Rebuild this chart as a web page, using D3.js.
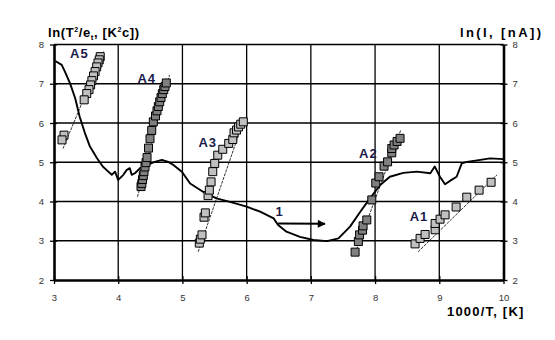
<!DOCTYPE html>
<html>
<head>
<meta charset="utf-8">
<script src="https://cdn.jsdelivr.net/npm/d3@7"></script>
<style>
  body { margin: 0; background: #fff; }
  text { font-family: "Liberation Sans", Arial, sans-serif; }
</style>
</head>
<body>
<svg width="555" height="340"></svg>
<script>
// curve 1 : ln(I) vs 1000/T
var curve1 = [
  [3.02,7.58],[3.12,7.48],[3.17,7.31],[3.25,7.01],[3.33,6.63],[3.40,6.16],[3.48,5.75],
  [3.56,5.40],[3.67,5.10],[3.76,4.89],[3.82,4.80],[3.90,4.68],[3.95,4.76],[4.00,4.55],
  [4.08,4.68],[4.13,4.80],[4.18,4.85],[4.21,4.68],[4.26,4.72],[4.34,4.85],[4.44,4.93],
  [4.57,5.01],[4.68,5.06],[4.78,5.01],[4.86,4.93],[4.99,4.76],[5.12,4.46],[5.32,4.25],
  [5.53,4.08],[5.74,3.99],[6.00,3.87],[6.21,3.74],[6.42,3.57],[6.49,3.40],[6.62,3.23],
  [6.83,3.10],[7.04,3.02],[7.25,2.99],[7.43,3.06],[7.61,3.36],[7.77,3.74],[7.92,4.08],
  [8.08,4.42],[8.23,4.63],[8.44,4.73],[8.65,4.76],[8.86,4.72],[8.93,4.89],[9.01,4.63],
  [9.09,4.44],[9.19,4.55],[9.27,4.63],[9.35,4.97],[9.43,5.01],[9.64,5.06],[9.79,5.10],
  [10.0,5.08]
];

// A-series points : ln(T^2/e_t)
var a5 = [[3.125,5.57],[3.156,5.69],[3.47,6.59],[3.51,6.75],[3.545,6.85],[3.57,6.97],
  [3.59,7.08],[3.615,7.20],[3.64,7.31],[3.665,7.43],[3.685,7.53],[3.705,7.61],[3.72,7.69]];
var a4 = [[4.749,7.02],[4.729,6.93],[4.709,6.85],[4.687,6.75],[4.667,6.65],[4.646,6.54],
  [4.625,6.42],[4.604,6.31],[4.581,6.18],[4.547,6.03],[4.522,5.81],[4.495,5.60],[4.472,5.36],
  [4.449,5.12],[4.433,4.99],[4.417,4.88],[4.402,4.76],[4.391,4.66],[4.379,4.56],[4.368,4.46],
  [4.355,4.38]];
var a3 = [[5.948,6.03],[5.908,5.97],[5.874,5.90],[5.843,5.82],[5.804,5.75],[5.784,5.58],
  [5.721,5.48],[5.628,5.33],[5.550,5.18],[5.503,4.97],[5.472,4.76],[5.446,4.50],[5.419,4.29],
  [5.399,4.15],[5.357,3.71],[5.336,3.60],[5.305,3.15],[5.279,3.04],[5.263,2.94]];
var a2 = [[8.389,5.61],[8.343,5.53],[8.296,5.44],[8.260,5.35],[8.260,5.24],[8.195,5.01],
  [8.140,4.90],[8.062,4.63],[8.011,4.47],[7.949,4.04],[7.871,3.53],[7.813,3.38],[7.805,3.27],
  [7.759,3.15],[7.740,2.98],[7.689,2.71]];
var a1 = [[9.807,4.49],[9.620,4.29],[9.428,4.11],[9.262,3.86],[9.090,3.66],[9.012,3.55],
  [8.935,3.44],[8.935,3.28],[8.779,3.16],[8.701,3.06],[8.623,2.92]];

// fitted lines (end points)
var fit5 = [[3.14,5.35],[3.77,7.82]];
var fit4 = [[4.30,4.12],[4.80,7.22]];
var fit3 = [[5.245,2.72],[5.96,6.10]];
var fit2 = [[7.689,2.68],[8.40,5.82]];
var fit1 = [[8.67,2.72],[9.90,4.68]];

var seriesNames = ["A5","A4","A3","A2","A1"];
var seriesFill = ["#c0c0c0","#808080","#c0c0c0","#808080","#c0c0c0"];
var labelPos = [[3.25,7.65],[4.30,7.03],[5.25,5.40],[7.75,5.10],[8.54,3.50]];
var arrow1 = [[6.49,3.44],[7.22,3.43]];
var label1 = [6.45,3.62];

var xTicks = [3,4,5,6,7,8,9,10];
var yTicks = [2,3,4,5,6,7,8];

var svg = d3.select("svg");
var x = d3.scaleLinear().domain([3,10]).range([54,503.5]);
var y = d3.scaleLinear().domain([2,8]).range([280,44.5]);

// grid
svg.append("g").selectAll("line")
  .data(xTicks.slice(1,-1)).enter().append("line")
    .attr("x1", function(d){ return x(d) }).attr("x2", function(d){ return x(d) })
    .attr("y1", y(2)).attr("y2", y(8))
    .attr("stroke", "#000").attr("stroke-width", 1.3)
svg.append("g").selectAll("line")
  .data(yTicks.slice(1)).enter().append("line")
    .attr("x1", x(3)).attr("x2", x(10))
    .attr("y1", function(d){ return y(d) }).attr("y2", function(d){ return y(d) })
    .attr("stroke", "#000").attr("stroke-width", 1.3)

// axes
function styleAxis(g) {
  g.select(".domain").attr("stroke-width", 2.6)
  g.selectAll(".tick line").attr("stroke-width", 1.3)
  g.selectAll(".tick text").attr("fill", "#333").style("font-size", "9.5px")
}
var bottom = svg.append("g").attr("transform", "translate(0," + y(2) + ")")
  .call(d3.axisBottom(x).tickValues(xTicks).tickSizeInner(4).tickSizeOuter(0).tickPadding(10).tickFormat(d3.format("d")))
bottom.call(styleAxis)
bottom.selectAll(".tick line").attr("y1", -4)

var left = svg.append("g").attr("transform", "translate(" + x(3) + ",0)")
  .call(d3.axisLeft(y).tickValues(yTicks).tickSizeInner(4).tickSizeOuter(0).tickPadding(6).tickFormat(d3.format("d")))
left.call(styleAxis)
left.selectAll(".tick line").attr("x1", 3)

var right = svg.append("g").attr("transform", "translate(" + x(10) + ",0)")
  .call(d3.axisRight(y).tickValues(yTicks).tickSizeInner(4).tickSizeOuter(0).tickPadding(5).tickFormat(d3.format("d")))
right.call(styleAxis)
right.selectAll(".tick line").attr("x1", -3)

svg.selectAll(".tick text").attr("font-family", "Liberation Sans, Arial, sans-serif")

// curve 1
var line = d3.line().x(function(d){ return x(d[0]) }).y(function(d){ return y(d[1]) })
svg.append("path").datum(curve1)
  .attr("d", line).attr("fill", "none").attr("stroke", "#000")
  .attr("stroke-width", 1.9).attr("stroke-linejoin", "round")

// fits and squares
var sets = [a5, a4, a3, a2, a1];
var fits = [fit5, fit4, fit3, fit2, fit1];
var sq = d3.symbol().type(d3.symbolSquare).size(64);

sets.forEach(function(pts, i) {
  svg.append("path").datum(fits[i])
    .attr("d", line).attr("fill", "none").attr("stroke", "#000")
    .attr("stroke-width", 0.8).attr("stroke-dasharray", "3,1")
  svg.append("g").selectAll("path")
    .data(pts.slice().reverse()).enter().append("path")
      .attr("d", sq)
      .attr("transform", function(d){ return "translate(" + x(d[0]) + "," + y(d[1]) + ")" })
      .attr("fill", seriesFill[i]).attr("stroke", "#000").attr("stroke-width", 1)
  svg.append("text")
    .attr("x", x(labelPos[i][0])).attr("y", y(labelPos[i][1]))
    .attr("fill", "#1a1a4a").style("font-size", "13px").style("font-weight", "bold")
    .style("letter-spacing", "1px")
    .text(seriesNames[i])
})

// arrow for curve 1
svg.append("defs").append("marker")
  .attr("id", "arr").attr("viewBox", "0 0 10 10").attr("refX", 9).attr("refY", 5)
  .attr("markerWidth", 5).attr("markerHeight", 4).attr("orient", "auto")
  .append("path").attr("d", "M0,0L10,5L0,10z").attr("fill", "#000")
svg.append("path").datum(arrow1)
  .attr("d", line).attr("stroke", "#000").attr("stroke-width", 2)
  .attr("marker-end", "url(#arr)")
svg.append("text")
  .attr("x", x(label1[0])).attr("y", y(label1[1]))
  .attr("fill", "#1a1a4a").style("font-size", "13px").style("font-weight", "bold")
  .text("1")

// axis titles
var tl = svg.append("text").attr("x", 48).attr("y", 37)
  .style("font-size", "13px").style("font-weight", "bold").style("letter-spacing", "0.6px")
tl.append("tspan").text("ln(T")
tl.append("tspan").attr("dy", -5).style("font-size", "7px").text("2")
tl.append("tspan").attr("dy", 5).text("/e")
tl.append("tspan").attr("dy", 3).style("font-size", "8px").text("t")
tl.append("tspan").attr("dy", -3).text(", [K")
tl.append("tspan").attr("dy", -5).style("font-size", "7px").text("2")
tl.append("tspan").attr("dy", 5).text("c])")

svg.append("text").attr("x", 460).attr("y", 37)
  .style("font-size", "13px").style("font-weight", "bold").style("letter-spacing", "2.4px")
  .text("ln(I, [nA])")

svg.append("text").attr("x", 447).attr("y", 316)
  .style("font-size", "13px").style("font-weight", "bold").style("letter-spacing", "1.2px")
  .text("1000/T, [K]")
</script>
</body>
</html>
